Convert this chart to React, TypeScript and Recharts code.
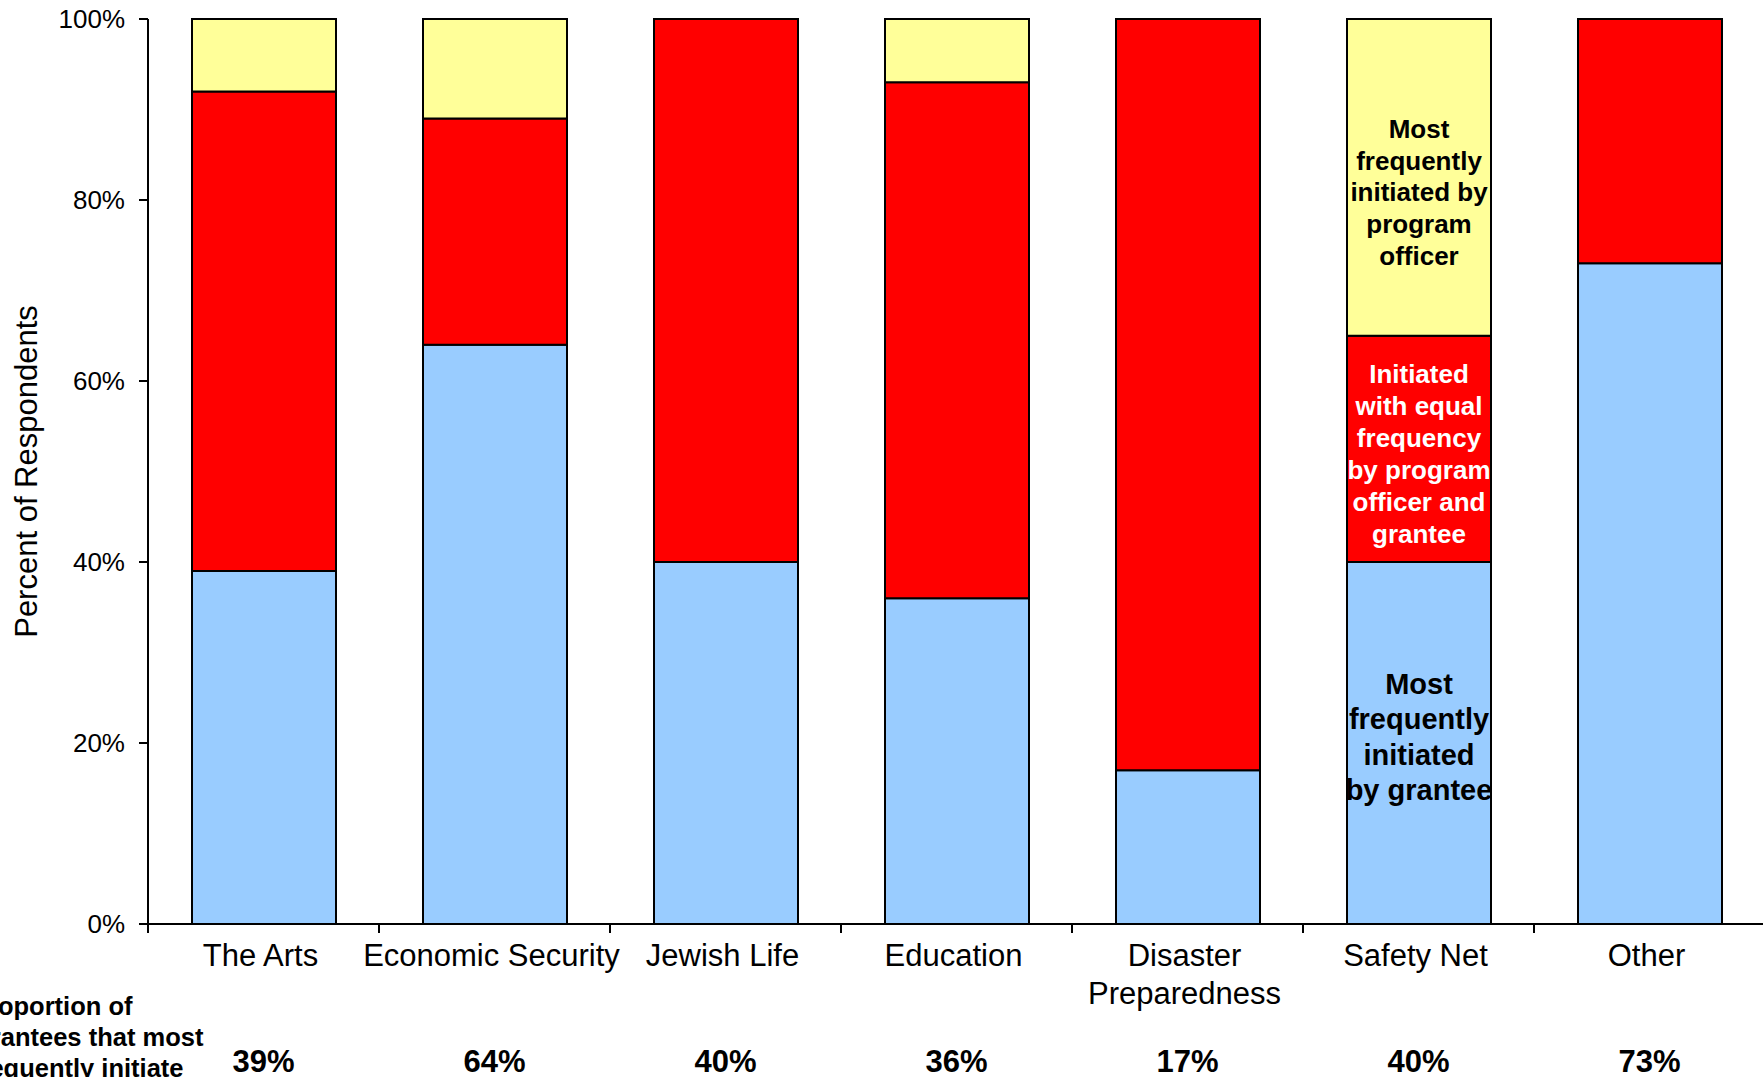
import React from 'react';
import { BarChart, Bar, XAxis, YAxis, Label, LabelList } from 'recharts';

const FONT = '"Liberation Sans", Arial, Helvetica, sans-serif';

const categories = ['The Arts', 'Economic Security', 'Jewish Life', 'Education', 'Disaster\nPreparedness', 'Safety Net', 'Other'];
const granteeValues = [39, 64, 40, 36, 17, 40, 73];
const equalValues = [53, 25, 60, 57, 83, 25, 27];
const officerValues = [8, 11, 0, 7, 0, 35, 0];
const granteeShareLabels = ['39%', '64%', '40%', '36%', '17%', '40%', '73%'];
const yTicks = [0, 20, 40, 60, 80, 100];
const noteCategory = 'Safety Net';
const granteeNote = ['Most', 'frequently', 'initiated', 'by grantee'];
const equalNote = ['Initiated', 'with equal', 'frequency', 'by program', 'officer and', 'grantee'];
const officerNote = ['Most', 'frequently', 'initiated by', 'program', 'officer'];
const leftNote = ['Proportion of', 'Grantees that most', 'frequently initiate'];

const data = categories.map((name, i) => ({
  name,
  grantee: granteeValues[i],
  equal: equalValues[i],
  officer: officerValues[i],
}));

const makeNote = (lines: string[], color: string, fontSize: number, lineGap: number, shift: number) => (props: any) => {
  if (props.value !== noteCategory) return null;
  const vb = props.viewBox || props;
  const x = Number(vb.x ?? props.x);
  const y = Number(vb.y ?? props.y);
  const width = Number(vb.width ?? props.width);
  const height = Number(vb.height ?? props.height);
  const cx = x + width / 2;
  const cy = y + height / 2 + shift;
  const first = cy - ((lines.length - 1) * lineGap) / 2;
  return (
    <g>
      {lines.map((l, i) => (
        <text
          key={i}
          x={cx}
          y={first + i * lineGap}
          textAnchor="middle"
          dominantBaseline="central"
          fontSize={fontSize}
          fontWeight="bold"
          fontFamily={FONT}
          fill={color}
        >
          {l}
        </text>
      ))}
    </g>
  );
};

const TICK_MARGIN = 20;

const CategoryTick = (props: any) => {
  const { x, y, payload, width, visibleTicksCount } = props;
  const idx = categories.indexOf(payload.value);
  const lines = String(payload.value).split('\n');
  const band = Number(width) / Number(visibleTicksCount || categories.length);
  const axisY = y - TICK_MARGIN;
  const lx = x - 3;
  return (
    <g>
      <line x1={x - band / 2} x2={x - band / 2} y1={axisY} y2={axisY + 9} stroke="#000" strokeWidth={2} />
      {idx === categories.length - 1 && (
        <line x1={x + band / 2} x2={x + band / 2} y1={axisY} y2={axisY + 9} stroke="#000" strokeWidth={2} />
      )}
      <text x={lx} y={y} textAnchor="middle" fontSize={31} fill="#000" fontFamily={FONT}>
        {lines.map((l, i) => (
          <tspan key={i} x={lx} dy={i === 0 ? 22 : 38}>
            {l}
          </tspan>
        ))}
      </text>
      <text x={x} y={y + 128} textAnchor="middle" fontSize={31} fontWeight="bold" fill="#000" fontFamily={FONT}>
        {granteeShareLabels[idx]}
      </text>
    </g>
  );
};

const YLabel = (props: any) => {
  const vb = props.viewBox || {};
  const cy = (vb.y ?? 19) + (vb.height ?? 905) / 2;
  const lx = 26;
  return (
    <text
      x={lx}
      y={cy}
      transform={`rotate(-90 ${lx} ${cy})`}
      textAnchor="middle"
      dominantBaseline="central"
      fontSize={31}
      fill="#000"
      fontFamily={FONT}
    >
      Percent of Respondents
    </text>
  );
};

export default function App() {
  return (
    <div
      style={{
        position: 'absolute',
        left: 0,
        top: 0,
        width: 1763,
        height: 1077,
        overflow: 'hidden',
        background: '#fff',
        fontFamily: FONT,
      }}
    >
      <BarChart
        width={1800}
        height={1100}
        data={data}
        margin={{ top: 19, right: 35, bottom: 0, left: 0 }}
        barSize={144}
      >
        <XAxis
          dataKey="name"
          type="category"
          height={176}
          axisLine={{ stroke: '#000', strokeWidth: 2 }}
          tickLine={false}
          tickSize={0}
          tickMargin={TICK_MARGIN}
          interval={0}
          tick={<CategoryTick />}
        />
        <YAxis
          type="number"
          domain={[0, 100]}
          ticks={yTicks}
          interval={0}
          width={148}
          axisLine={{ stroke: '#000', strokeWidth: 2 }}
          tickLine={{ stroke: '#000', strokeWidth: 2 }}
          tickSize={9}
          tickMargin={14}
          tick={{ fontSize: 26, fill: '#000', fontFamily: FONT }}
          tickFormatter={(v: number) => `${v}%`}
        >
          <Label content={<YLabel />} />
        </YAxis>
        <Bar dataKey="grantee" stackId="a" fill="#99CCFF" stroke="#000" strokeWidth={2} isAnimationActive={false}>
          <LabelList dataKey="name" content={makeNote(granteeNote, '#000', 29, 35.3, -6)} />
        </Bar>
        <Bar dataKey="equal" stackId="a" fill="#FF0000" stroke="#000" strokeWidth={2} isAnimationActive={false}>
          <LabelList dataKey="name" content={makeNote(equalNote, '#fff', 26, 32, 5)} />
        </Bar>
        <Bar dataKey="officer" stackId="a" fill="#FFFF99" stroke="#000" strokeWidth={2} isAnimationActive={false}>
          <LabelList dataKey="name" content={makeNote(officerNote, '#000', 26, 31.75, 15)} />
        </Bar>
      </BarChart>
      <svg
        width={1763}
        height={1077}
        style={{ position: 'absolute', left: 0, top: 0, pointerEvents: 'none' }}
      >
        {leftNote.map((l, i) => (
          <text key={i} x={-29} y={1015 + i * 31} fontSize={25.5} fontWeight="bold" fill="#000" fontFamily={FONT}>
            {l}
          </text>
        ))}
      </svg>
    </div>
  );
}
